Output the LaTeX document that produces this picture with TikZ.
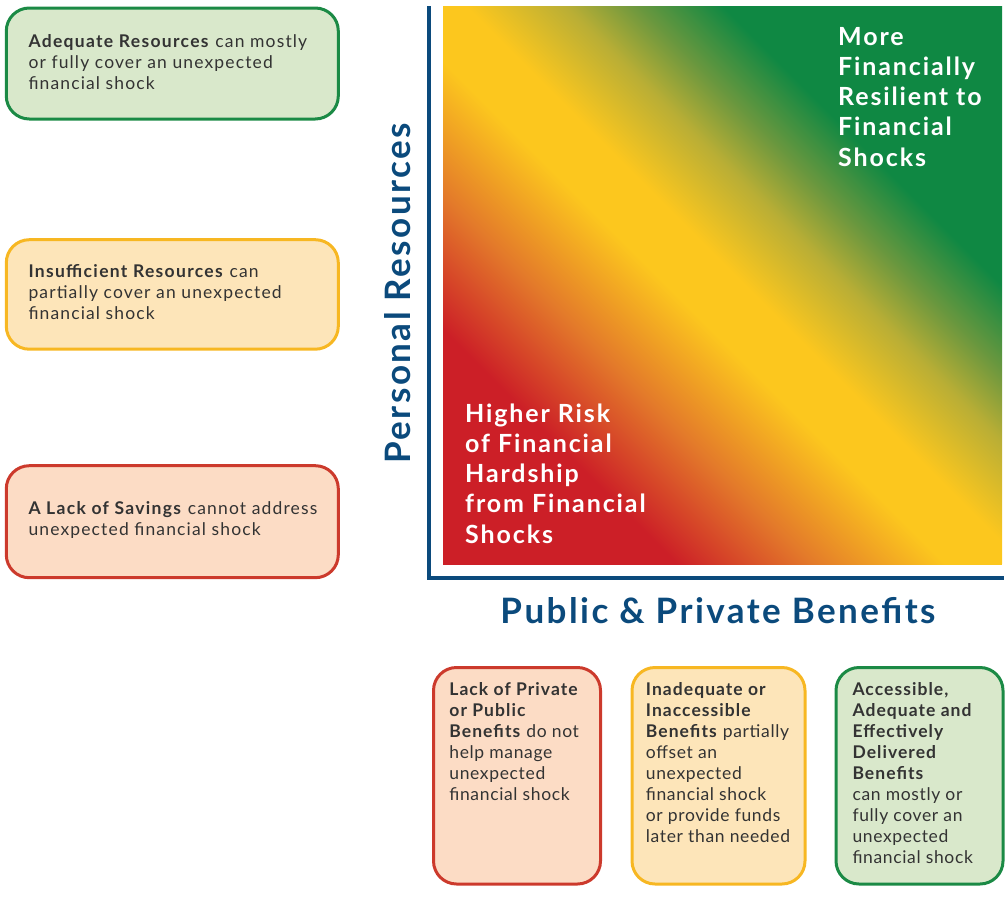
\documentclass[tikz,border=0pt]{standalone}
\usepackage{fontspec}
\setmainfont{Lato}
\newfontfamily\boxfont{Lato}[LetterSpace=6.5, BoldFeatures={LetterSpace=7.5}]
\newfontfamily\cardfont{Lato}[LetterSpace=3.7, BoldFeatures={LetterSpace=6}]
\newfontfamily\zonefont{Lato}[LetterSpace=7.5]
\newfontfamily\titlefont{Lato}[LetterSpace=7]

\definecolor{navy}{HTML}{0B4A7C}
\definecolor{inkgray}{HTML}{333333}
\definecolor{goodline}{HTML}{1B8A45}
\definecolor{goodfill}{HTML}{D9E8CB}
\definecolor{midline}{HTML}{F7B722}
\definecolor{midfill}{HTML}{FDE5B9}
\definecolor{badline}{HTML}{CC3A2C}
\definecolor{badfill}{HTML}{FCDCC5}
\definecolor{rrisk}{HTML}{CC1F27}
\definecolor{rorange}{HTML}{E3792A}
\definecolor{ryellow}{HTML}{FCC71E}
\definecolor{rolive}{HTML}{B9AE35}
\definecolor{rmoss}{HTML}{6E983E}
\definecolor{rgreen}{HTML}{0F8843}

% colour scale running from the lower left corner to the upper right corner
\pgfdeclarehorizontalshading{riskscale}{100bp}{%
  color(0bp)=(rrisk); color(35.5bp)=(rrisk); color(41.5bp)=(rorange);
  color(47.5bp)=(ryellow); color(51bp)=(ryellow); color(55.5bp)=(rolive);
  color(58.5bp)=(rmoss); color(62.5bp)=(rgreen); color(100bp)=(rgreen)}

\tikzset{
  card/.style={draw, line width=3pt, rounded corners=23pt, anchor=north west, inner sep=0pt},
  % multi-line texts are placed by the baseline of their last line
  sidetext/.style={anchor=base west, inner sep=0pt, align=left, text=inkgray,
    font=\boxfont\fontsize{17.5}{21.2}\selectfont},
  bottomtext/.style={anchor=base west, inner sep=0pt, align=left, text=inkgray,
    font=\cardfont\fontsize{17.5}{21}\selectfont},
  zonetext/.style={anchor=base west, inner sep=0pt, align=left, text=white,
    font=\zonefont\bfseries\fontsize{25}{30.2}\selectfont},
  axistitle/.style={inner sep=0pt, text=navy, font=\titlefont\bfseries\fontsize{35}{38}\selectfont},
}

\begin{document}
\begin{tikzpicture}[x=1pt, y=-1pt]
\useasboundingbox (0,0) rectangle (1008,902);

% gradient field
\begin{scope}
  \clip (443,6) rectangle (1002,564);
  \begin{scope}[transform canvas={shift={(722.5,285)}, rotate=45}]
    \shade[shading=riskscale] (-395.3,-395.3) rectangle (395.3,395.3);
  \end{scope}
\end{scope}

% axes
\coordinate (ytop) at (429,6);
\coordinate (xend) at (1004,578);
\draw[navy, line width=4.5pt] (ytop) |- (xend);

\node[axistitle, rotate=90, anchor=base] (ylabel) at (410,293.5) {Personal Resources};
\node[axistitle, anchor=base] (xlabel) at (718,623) {Public \& Private Benefits};

% zone labels
\node[zonetext] (hardship) at (465,543) {Higher Risk\\of Financial\\Hardship\\from Financial\\Shocks};
\node[zonetext] (resilient) at (838,166) {More\\Financially\\Resilient to\\Financial\\Shocks};

% personal resource levels
\node[card, draw=goodline, fill=goodfill, minimum width=332pt, minimum height=111pt] (adequate) at (4.8,6.5) {};
\node[card, draw=midline, fill=midfill, minimum width=332pt, minimum height=109.5pt] (insufficient) at (4.8,238.2) {};
\node[card, draw=badline, fill=badfill, minimum width=332pt, minimum height=112pt] (nosavings) at (4.8,464.2) {};

\node[sidetext] (adequatetxt) at (28.3,89.4) {\textbf{Adequate Resources} can mostly\\or fully cover an unexpected\\financial shock};
\node[sidetext] (insufficienttxt) at (28.3,319.5) {\textbf{Insufficient Resources} can\\partially cover an unexpected\\financial shock};
\node[sidetext] (nosavingstxt) at (28.3,535.5) {\textbf{A Lack of Savings} cannot address\\unexpected financial shock};

% benefit levels
\node[card, draw=badline, fill=badfill, minimum width=167pt, minimum height=216.5pt] (nobenefits) at (432,666) {};
\node[card, draw=midline, fill=midfill, minimum width=173pt, minimum height=216.5pt] (partbenefits) at (630.5,666) {};
\node[card, draw=goodline, fill=goodfill, minimum width=167pt, minimum height=216.5pt] (fullbenefits) at (834.5,666) {};

\node[bottomtext] (nobenefitstxt) at (449.2,800) {\textbf{Lack of Private}\\\textbf{or Public}\\\textbf{Benefits} do not\\help manage\\unexpected\\financial shock};
\node[bottomtext] (partbenefitstxt) at (645.7,842) {\textbf{Inadequate or}\\\textbf{Inaccessible}\\\textbf{Benefits} partially\\offset an\\unexpected\\financial shock\\or provide funds\\later than needed};
\node[bottomtext] (fullbenefitstxt) at (852.3,863) {\textbf{Accessible,}\\\textbf{Adequate and}\\\textbf{Effectively}\\\textbf{Delivered}\\\textbf{Benefits}\\can mostly or\\fully cover an\\unexpected\\financial shock};
\end{tikzpicture}
\end{document}
